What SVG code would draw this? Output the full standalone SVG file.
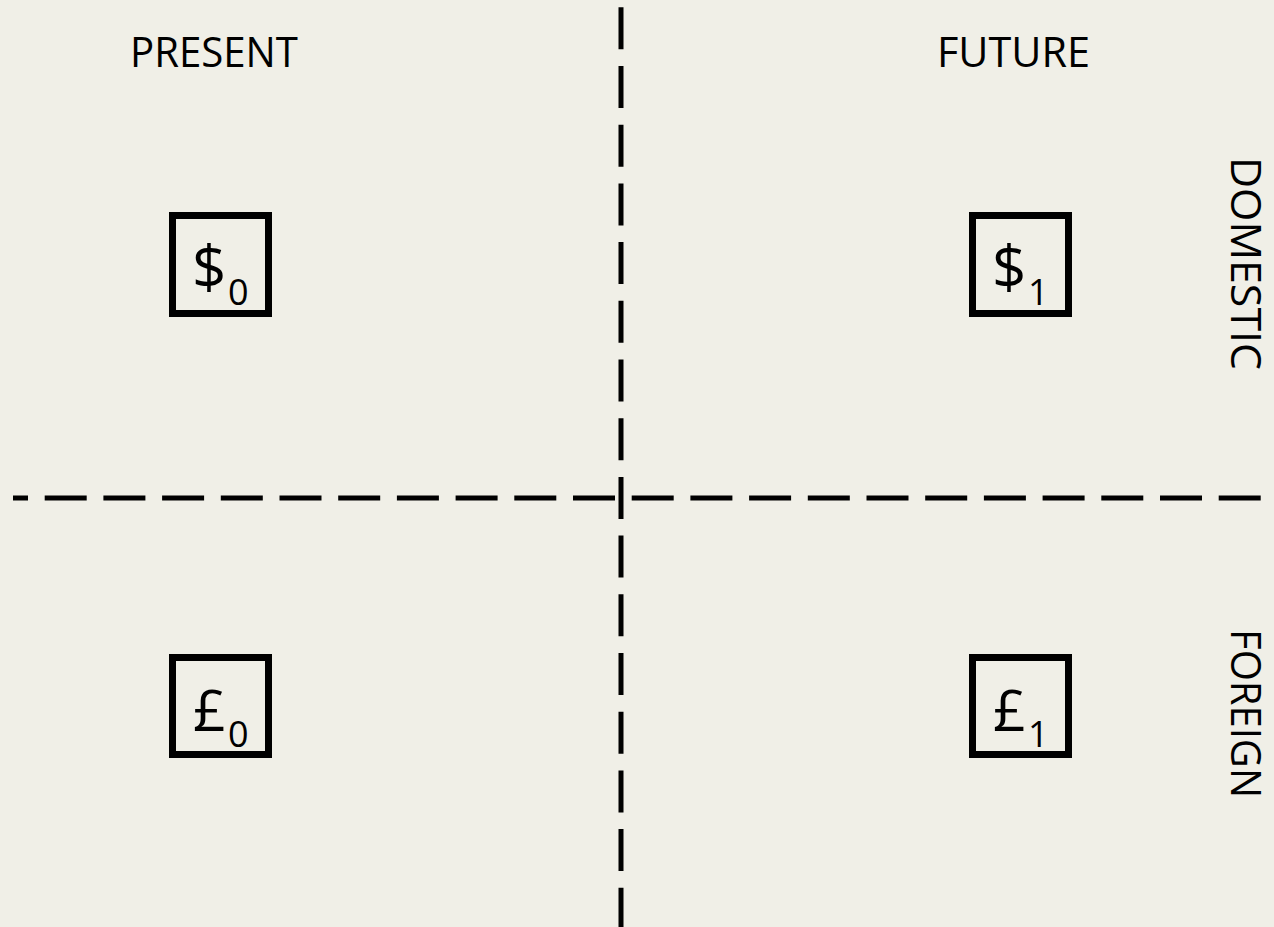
<svg xmlns="http://www.w3.org/2000/svg" width="1274" height="927" viewBox="0 0 1274 927">
<style>
.bg{fill:#f0efe7}
.dash{stroke:#000;stroke-width:5;stroke-dasharray:42 16.7;fill:none}
.box{fill:none;stroke:#000;stroke-width:7;stroke-linejoin:miter}
.lbl{font-family:"Open Sans","Liberation Sans",sans-serif;font-size:42px;fill:#000}
.sym{font-family:"Open Sans","Liberation Sans",sans-serif;font-size:57px;fill:#000}
.dol{font-size:60px}
.sub{font-size:36px}
</style>
<rect class="bg" x="0" y="0" width="1274" height="927"/>
<g id="connectors">
<line class="dash" x1="621" y1="7.3" x2="621" y2="927"/>
<line class="dash" x1="13" y1="498" x2="1261" y2="498" stroke-dashoffset="27"/>
</g>
<g id="present"><text class="lbl" x="214" y="67" text-anchor="middle" textLength="168" lengthAdjust="spacingAndGlyphs">PRESENT</text></g>
<g id="future"><text class="lbl" x="1013.5" y="67" text-anchor="middle" textLength="153" lengthAdjust="spacingAndGlyphs">FUTURE</text></g>
<g id="domestic"><text class="lbl" transform="translate(1231,263.5) rotate(90)" text-anchor="middle" textLength="213" lengthAdjust="spacingAndGlyphs">DOMESTIC</text></g>
<g id="foreign"><text class="lbl" transform="translate(1231,713.5) rotate(90)" text-anchor="middle" textLength="169" lengthAdjust="spacingAndGlyphs">FOREIGN</text></g>
<g id="dollar0">
<rect class="box" x="172.5" y="215.5" width="96" height="98"/>
<text class="sym" x="192" y="289"><tspan class="dol">$</tspan></text>
<text class="sym sub" x="228" y="305">0</text>
</g>
<g id="dollar1">
<rect class="box" x="972.5" y="215.5" width="96" height="98"/>
<text class="sym" x="992" y="289"><tspan class="dol">$</tspan></text>
<text class="sym sub" x="1028" y="305">1</text>
</g>
<g id="pound0">
<rect class="box" x="172.5" y="657.5" width="96" height="97"/>
<text class="sym" x="193" y="731">£</text>
<text class="sym sub" x="228" y="747">0</text>
</g>
<g id="pound1">
<rect class="box" x="972.5" y="657.5" width="96" height="97"/>
<text class="sym" x="993" y="731">£</text>
<text class="sym sub" x="1028" y="747">1</text>
</g>
</svg>
